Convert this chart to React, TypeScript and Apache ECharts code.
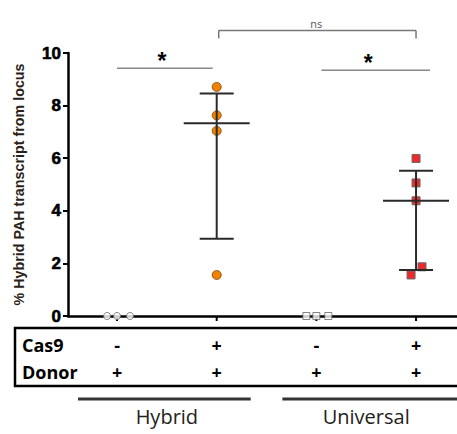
import React, { useEffect, useRef } from 'react';
import * as echarts from 'echarts';

// ---- data ----
const categories = ['Hybrid Cas9-', 'Hybrid Cas9+', 'Universal Cas9-', 'Universal Cas9+'];
const categoryPos = [1, 2, 3, 4];

const hybridNeg = [0, 0, 0];
const hybridNegJitter = [-0.1, 0, 0.13];
const hybridPos = [8.71, 7.63, 7.04, 1.56];
const hybridPosJitter = [0, 0, 0, 0];
const universalNeg = [0, 0, 0];
const universalNegJitter = [-0.1, 0, 0.12];
const universalPos = [5.99, 5.06, 4.38, 1.87, 1.56];
const universalPosJitter = [0, 0, 0, 0.06, -0.05];

const summaryCategory = [2, 4];
const summaryMedian = [7.33, 4.38];
const summaryLow = [2.94, 1.75];
const summaryHigh = [8.46, 5.52];

const sigLabels = ['*', '*', 'ns'];
const sigX1 = [1.0, 3.05, 2.02];
const sigX2 = [1.96, 4.14, 4.0];
const sigLabelX = [1.45, 3.52, 3.0];
const sigY = [9.42, 9.34, 10.86];
const sigBracket = [0, 0, 1];

const yMin = 0;
const yMax = 10;
const yInterval = 2;

const rowLabels = ['Cas9', 'Donor'];
const cas9Row = ['-', '+', '-', '+'];
const donorRow = ['+', '+', '+', '+'];
const groupNames = ['Hybrid', 'Universal'];
const groupCats = [[1, 2], [3, 4]];

const yAxisName = '% Hybrid PAH transcript from locus';

export default function App() {
  const ref = useRef<HTMLDivElement>(null);

  useEffect(() => {
    if (!ref.current) return;
    const chart = echarts.init(ref.current, undefined, { renderer: 'svg' });

    const mk = (vals: number[], cat: number, jit: number[]) =>
      vals.map((v, i) => [cat + jit[i], v]);

    const option: any = {
      animation: false,
      backgroundColor: '#fff',
      grid: { left: 68, right: 0, top: 53, bottom: 118 },
      xAxis: {
        type: 'value',
        min: 0.508,
        max: 4.411,
        axisLine: { show: true, onZero: false, lineStyle: { color: '#000', width: 2.5 } },
        axisTick: { show: false },
        axisLabel: { show: false },
        splitLine: { show: false },
      },
      yAxis: {
        type: 'value',
        min: yMin,
        max: yMax,
        interval: yInterval,
        name: yAxisName,
        nameLocation: 'middle',
        nameGap: 42,
        nameTextStyle: { fontFamily: 'Liberation Sans', fontWeight: 'bold', fontSize: 14.3, color: '#2a2218' },
        axisLine: { show: true, lineStyle: { color: '#000', width: 2.5 } },
        axisTick: { show: true, length: 5, lineStyle: { color: '#000', width: 2 } },
        axisLabel: {
          fontFamily: 'Liberation Sans',
          fontWeight: 'bold',
          fontSize: 17,
          color: '#000',
          margin: 7,
          textBorderColor: '#000',
          textBorderWidth: 0.6,
        },
        splitLine: { show: false },
      },
      series: [
        {
          type: 'custom',
          name: 'xticks',
          clip: false,
          silent: true,
          z: 1,
          data: categoryPos.map((c) => [c, 0]),
          renderItem: (params: any, api: any) => {
            const p = api.coord([api.value(0), api.value(1)]);
            return {
              type: 'line',
              shape: { x1: p[0], y1: p[1], x2: p[0], y2: p[1] + 5 },
              style: { stroke: '#000', lineWidth: 2 },
            };
          },
        },
        {
          type: 'scatter',
          name: categories[0],
          symbol: 'circle',
          symbolSize: 7,
          z: 3,
          itemStyle: { color: '#fff', borderColor: '#666', borderWidth: 1 },
          data: mk(hybridNeg, categoryPos[0], hybridNegJitter),
        },
        {
          type: 'scatter',
          name: categories[1],
          symbol: 'circle',
          symbolSize: 9,
          z: 3,
          itemStyle: { color: '#F08200', borderColor: '#7a4300', borderWidth: 0.8, opacity: 1 },
          data: mk(hybridPos, categoryPos[1], hybridPosJitter),
        },
        {
          type: 'scatter',
          name: categories[2],
          symbol: 'rect',
          symbolSize: 7,
          z: 3,
          itemStyle: { color: '#fff', borderColor: '#666', borderWidth: 1 },
          data: mk(universalNeg, categoryPos[2], universalNegJitter),
        },
        {
          type: 'scatter',
          name: categories[3],
          symbol: 'rect',
          symbolSize: 8,
          z: 3,
          itemStyle: { color: '#EC2A2E', borderColor: '#6a6a6a', borderWidth: 1, opacity: 1 },
          data: mk(universalPos, categoryPos[3], universalPosJitter),
        },
        {
          type: 'custom',
          name: 'summary',
          clip: false,
          silent: true,
          z: 4,
          data: summaryCategory.map((c, i) => [c, summaryMedian[i], summaryLow[i], summaryHigh[i]]),
          renderItem: (params: any, api: any) => {
            const x = api.value(0);
            const m = api.coord([x, api.value(1)]);
            const lo = api.coord([x, api.value(2)]);
            const hi = api.coord([x, api.value(3)]);
            const st = { stroke: '#2a2a2a', lineWidth: 2 };
            return {
              type: 'group',
              children: [
                { type: 'line', shape: { x1: lo[0], y1: lo[1], x2: hi[0], y2: hi[1] }, style: st },
                { type: 'line', shape: { x1: lo[0] - 17, y1: lo[1], x2: lo[0] + 17, y2: lo[1] }, style: st },
                { type: 'line', shape: { x1: hi[0] - 17, y1: hi[1], x2: hi[0] + 17, y2: hi[1] }, style: st },
                { type: 'line', shape: { x1: m[0] - 33, y1: m[1], x2: m[0] + 33, y2: m[1] }, style: st },
              ],
            };
          },
        },
        {
          type: 'custom',
          name: 'significance',
          clip: false,
          silent: true,
          z: 4,
          data: sigLabels.map((l, i) => [sigX1[i], sigX2[i], sigY[i], sigBracket[i], i, sigLabelX[i]]),
          renderItem: (params: any, api: any) => {
            const a = api.coord([api.value(0), api.value(2)]);
            const b = api.coord([api.value(1), api.value(2)]);
            const t = api.coord([api.value(5), api.value(2)]);
            const bracket = api.value(3) === 1;
            const label = sigLabels[api.value(4)];
            const st = { stroke: bracket ? '#777' : '#888', lineWidth: 1.5 };
            const children: any[] = [
              { type: 'line', shape: { x1: a[0], y1: a[1], x2: b[0], y2: b[1] }, style: st },
            ];
            if (bracket) {
              children.push({ type: 'line', shape: { x1: a[0], y1: a[1], x2: a[0], y2: a[1] + 8 }, style: st });
              children.push({ type: 'line', shape: { x1: b[0], y1: b[1], x2: b[0], y2: b[1] + 8 }, style: st });
              children.push({
                type: 'text',
                style: {
                  text: label,
                  x: t[0],
                  y: a[1] - 7,
                  align: 'center',
                  verticalAlign: 'middle',
                  fontFamily: 'Open Sans',
                  fontSize: 11,
                  fill: '#555',
                },
              });
            } else {
              children.push({
                type: 'text',
                style: {
                  text: label,
                  x: t[0],
                  y: a[1] - 7,
                  align: 'center',
                  verticalAlign: 'middle',
                  fontFamily: 'Liberation Sans',
                  fontWeight: 'bold',
                  fontSize: 23,
                  fill: '#000',
                },
              });
            }
            return { type: 'group', children };
          },
        },
      ],
    };

    chart.setOption(option);

    const px = (v: number) => chart.convertToPixel({ xAxisIndex: 0 }, v) as number;
    const tableTop = 328;
    const tableBottom = 386;
    const row1Y = 345;
    const row2Y = 372;
    const bold = { fontFamily: 'Open Sans', fontWeight: 'bold', fontSize: 18, fill: '#000' };
    const graphic: any[] = [
      {
        type: 'rect',
        shape: { x: 15, y: tableTop, width: 470, height: tableBottom - tableTop },
        style: { fill: 'none', stroke: '#000', lineWidth: 2.5 },
      },
      { type: 'text', style: { text: rowLabels[0], x: 22, y: row1Y, verticalAlign: 'middle', ...bold } },
      { type: 'text', style: { text: rowLabels[1], x: 22, y: row2Y, verticalAlign: 'middle', ...bold } },
    ];
    categoryPos.forEach((c, i) => {
      graphic.push({ type: 'text', style: { text: cas9Row[i], x: px(c), y: row1Y, align: 'center', verticalAlign: 'middle', ...bold } });
      graphic.push({ type: 'text', style: { text: donorRow[i], x: px(c), y: row2Y, align: 'center', verticalAlign: 'middle', ...bold } });
    });
    const lineLeftPad = [39, 34];
    groupNames.forEach((g, i) => {
      const x1 = px(groupCats[i][0]);
      const x2 = px(groupCats[i][1]);
      const mid = (x1 + x2) / 2;
      graphic.push({
        type: 'line',
        shape: { x1: x1 - lineLeftPad[i], y1: 399, x2: i === 1 ? 470 : x2 + 34, y2: 399 },
        style: { stroke: '#333', lineWidth: 3 },
      });
      graphic.push({
        type: 'text',
        style: { text: g, x: mid, y: 416, align: 'center', verticalAlign: 'middle', fontFamily: 'Open Sans', fontSize: 20, fill: '#222' },
      });
    });
    chart.setOption({ graphic });

    return () => chart.dispose();
  }, []);

  return <div ref={ref} style={{ position: 'fixed', left: 0, top: 0, width: 457, height: 434 }} />;
}
